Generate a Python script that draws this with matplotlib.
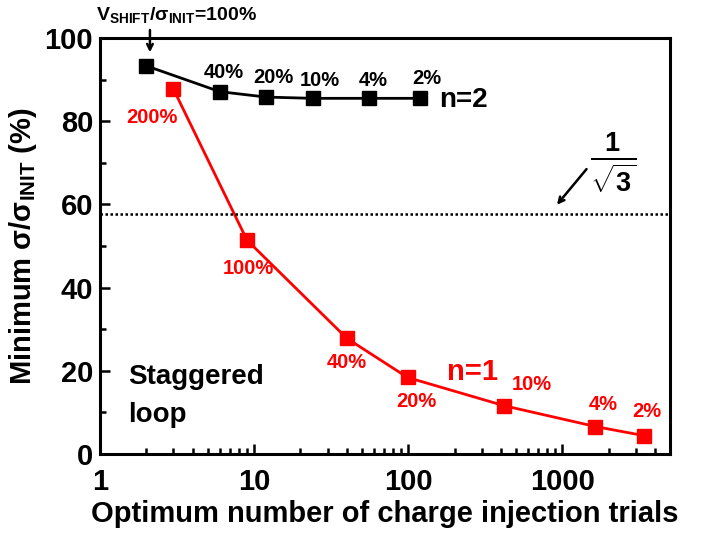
import numpy as np
import matplotlib
matplotlib.use('Agg')
import matplotlib.pyplot as plt

plt.rcParams['font.family'] = ['Liberation Sans', 'DejaVu Sans']
plt.rcParams['font.weight'] = 'bold'
plt.rcParams['mathtext.fontset'] = 'custom'
plt.rcParams['mathtext.rm'] = 'Liberation Sans:bold'
plt.rcParams['mathtext.bf'] = 'Liberation Sans:bold'
plt.rcParams['mathtext.it'] = 'Liberation Sans:bold'
plt.rcParams['mathtext.default'] = 'regular'

# n=2 loop
x_n2 = [2, 6, 12, 24, 56, 120]
y_n2 = [93.3, 87.1, 85.8, 85.5, 85.5, 85.5]
lab_n2 = ['40%', '20%', '10%', '4%', '2%']

# n=1 loop
x_n1 = [3, 9, 40, 99, 420, 1640, 3400]
y_n1 = [87.7, 51.4, 27.8, 18.4, 11.6, 6.6, 4.4]
lab_n1 = ['200%', '100%', '40%', '20%', '10%', '4%', '2%']

limit = 1 / np.sqrt(3) * 100

fig = plt.figure(figsize=(7.06, 5.37), dpi=100)
ax = fig.add_axes([0.1416, 0.1546, 0.8074, 0.7746])

ax.plot(x_n2, y_n2, color='black', lw=2, marker='s', ms=9.5)
ax.plot(x_n1, y_n1, color='red', lw=2, marker='s', ms=9.5)
ax.axhline(limit, color='black', ls=(0, (1, 1)), lw=1.8)

ax.set_xscale('log')
ax.set_xlim(1, 5000)
ax.set_ylim(0, 100)
ax.set_yticks([0, 20, 40, 60, 80, 100])
ax.set_yticks([10, 30, 50, 70, 90], minor=True)
ax.set_xticks([1, 10, 100, 1000])
ax.set_xticklabels(['1', '10', '100', '1000'])

for s in ax.spines.values():
    s.set_linewidth(2.2)
ax.tick_params(which='both', direction='in', width=1.8, labelsize=21, top=False, right=False)
ax.tick_params(which='major', length=7)
ax.tick_params(which='minor', length=4)
ax.tick_params(axis='x', pad=10)
ax.tick_params(axis='y', pad=5)

ax.set_xlabel('Optimum number of charge injection trials', fontsize=21, fontweight='bold', labelpad=3)
ax.set_ylabel('Minimum σ/σ$_{INIT}$ (%)', fontsize=21, fontweight='bold', labelpad=4)

# percentage labels
pos_n2 = [(6.4, 91.6), (13.3, 90.4), (26.8, 89.9), (59.3, 89.9), (132, 90.3)]
for t, (px, py) in zip(lab_n2, pos_n2):
    ax.text(px, py, t, color='black', fontsize=14.5, fontweight='bold', ha='center', va='center')

pos_n1 = [(2.18, 80.8), (9.14, 44.5), (40.2, 21.9), (112.7, 12.5), (638, 16.6), (1846, 11.8), (3512, 10.1)]
for t, (px, py) in zip(lab_n1, pos_n1):
    ax.text(px, py, t, color='red', fontsize=14.5, fontweight='bold', ha='center', va='center')

ax.text(228, 85.2, 'n=2', color='black', fontsize=20, fontweight='bold', ha='center', va='center')
ax.text(260, 19.7, 'n=1', color='red', fontsize=21, fontweight='bold', ha='center', va='center')
ax.text(1.52, 18.5, 'Staggered', fontsize=20, fontweight='bold', ha='left', va='center')
ax.text(1.52, 9.4, 'loop', fontsize=20, fontweight='bold', ha='left', va='center')

ax.text(3.12, 105.5, 'V$_{SHIFT}$/σ$_{INIT}$=100%', fontsize=14, fontweight='bold',
        ha='center', va='center', clip_on=False)
ax.annotate('', xy=(2.11, 95.9), xytext=(2.11, 102.6),
            arrowprops=dict(arrowstyle='->', lw=1.8, color='black'), annotation_clip=False)

ax.text(2150, 70, r'$\frac{1}{\sqrt{3}}$', fontsize=28, ha='center', va='center')
ax.annotate('', xy=(899, 59.4), xytext=(1475, 69),
            arrowprops=dict(arrowstyle='->', lw=1.8, color='black'))

fig.savefig('out.png', dpi=100)
